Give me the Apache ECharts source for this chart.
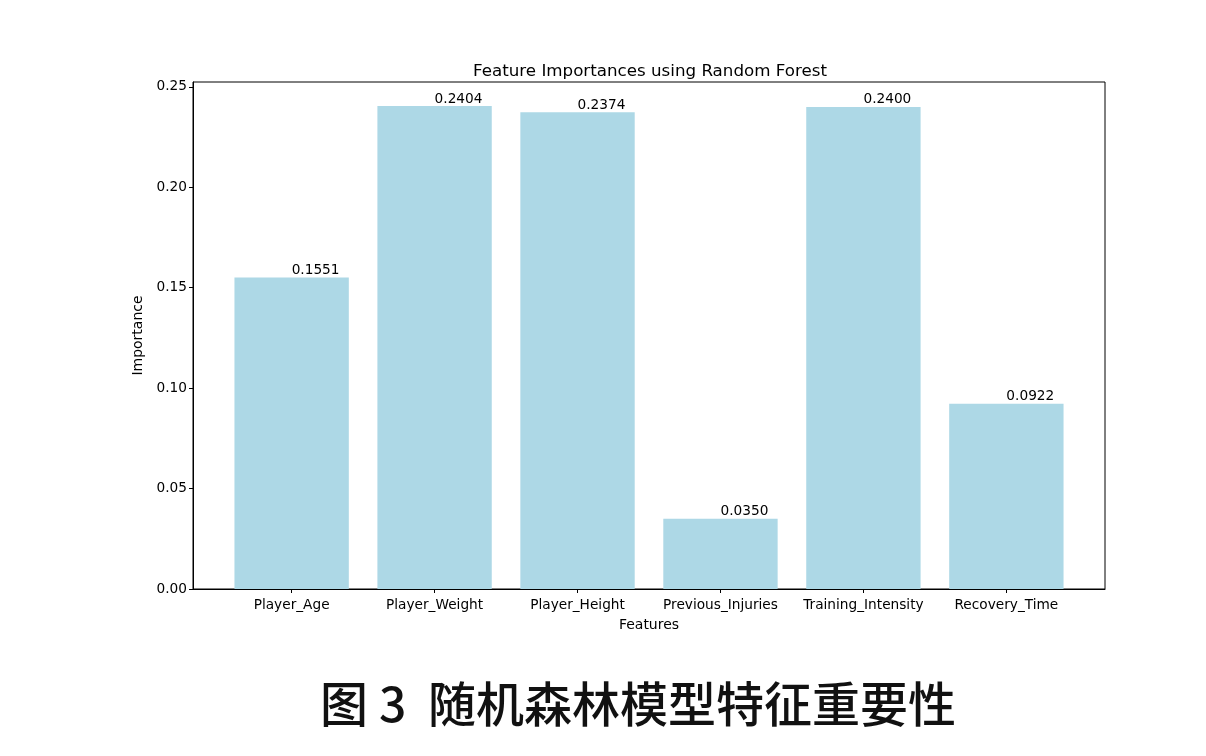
<!DOCTYPE html>
<html>
<head>
<meta charset="utf-8">
<script src="https://cdn.jsdelivr.net/npm/echarts@6/dist/echarts.min.js"></script>
<style>
html,body{margin:0;padding:0;background:#fff;}
#chart{width:1206px;height:756px;}
</style>
</head>
<body>
<div id="chart"></div>
<script>
const categories = ['Player_Age','Player_Weight','Player_Height','Previous_Injuries','Training_Intensity','Recovery_Time'];
const importances = [0.1551, 0.2404, 0.2374, 0.0350, 0.2400, 0.0922];
const yTicks = [0, 0.05, 0.10, 0.15, 0.20, 0.25];
const titleText = 'Feature Importances using Random Forest';
const captionText = '图 3  随机森林模型特征重要性';

const xIdx = categories.map((c, i) => i);
const chart = echarts.init(document.getElementById('chart'));
const font = 'DejaVu Sans';
chart.setOption({
  backgroundColor: '#fff',
  animation: false,
  title: [{
    text: titleText,
    left: 645, top: 58, textAlign: 'center',
    textStyle: {fontFamily: font, fontSize: 16.7, fontWeight: 'normal', color: '#000'}
  }, {
    text: captionText,
    left: 633, top: 675, textAlign: 'center',
    textStyle: {fontFamily: '"Noto Sans CJK SC"', fontSize: 48, fontWeight: 500, color: '#111'}
  }],
  grid: {left: 193, top: 82, right: 101, bottom: 167, show: true, borderColor: '#000', borderWidth: 1, backgroundColor: 'transparent'},
  xAxis: {
    type: 'value', min: -0.69, max: 5.69,
    name: 'Features', nameLocation: 'middle', nameGap: 29,
    nameTextStyle: {fontFamily: font, fontSize: 14, color: '#000'},
    axisLine: {show: true, onZero: false, lineStyle: {color: '#000', width: 1}},
    axisTick: {show: true, length: 4, lineStyle: {color: '#000'}, customValues: xIdx},
    axisLabel: {customValues: xIdx, fontFamily: font, fontSize: 13.7, color: '#000', margin: 9,
      formatter: v => categories[Math.round(v)] || ''},
    splitLine: {show: false}
  },
  yAxis: {
    type: 'value', min: 0, max: 0.2524,
    name: 'Importance', nameLocation: 'middle', nameGap: 45, nameRotate: 90,
    nameTextStyle: {fontFamily: font, fontSize: 14, color: '#000'},
    axisLine: {show: true, onZero: false, lineStyle: {color: '#000', width: 1}},
    axisTick: {show: true, length: 4, lineStyle: {color: '#000'}, customValues: yTicks},
    axisLabel: {customValues: yTicks, fontFamily: font, fontSize: 13.7, color: '#000', margin: 6,
      formatter: v => v.toFixed(2)},
    splitLine: {show: false}
  },
  series: [{
    type: 'bar',
    data: importances.map((v, i) => [i, v]),
    barWidth: '80%',
    itemStyle: {color: '#ADD8E6'},
    label: {
      show: true, position: 'top', align: 'left', distance: 0,
      fontFamily: font, fontSize: 13.7, color: '#000',
      formatter: p => p.value[1].toFixed(4)
    }
  }]
});
</script>
</body>
</html>
